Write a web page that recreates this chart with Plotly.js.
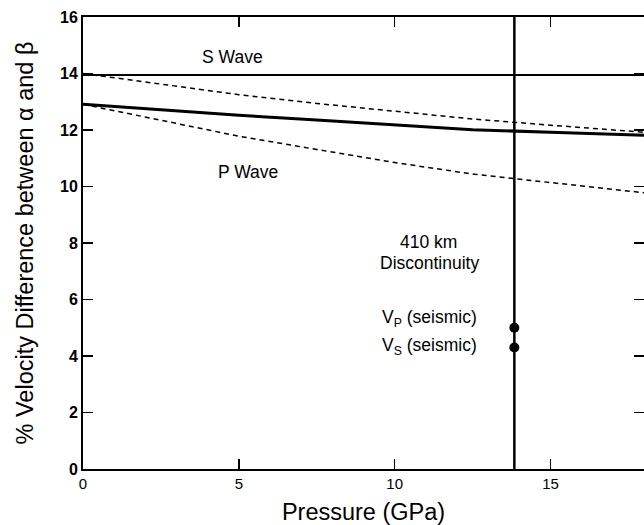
<!DOCTYPE html>
<html>
<head>
<meta charset="utf-8">
<script src="https://cdn.plot.ly/plotly-3.0.1.min.js"></script>
<style>
  html, body { margin: 0; padding: 0; background: #fff; }
  #chart { width: 644px; height: 525px; }
</style>
</head>
<body>
<div id="chart"></div>
<script>
// Pressure (GPa) sample points
const pressure = [0, 2.5, 5, 7.5, 10, 12.5, 15, 18];
// S wave: solid (observed) and dashed curves
const sSolid  = [13.95, 13.95, 13.95, 13.95, 13.95, 13.95, 13.95, 13.95];
const sDashed = [14.0, 13.62, 13.25, 12.94, 12.66, 12.39, 12.17, 11.92];
// P wave: solid and dashed curves
const pSolid  = [12.91, 12.71, 12.52, 12.35, 12.17, 12.01, 11.92, 11.81];
const pDashed = [12.91, 12.35, 11.78, 11.31, 10.85, 10.44, 10.15, 9.78];
// 410 km discontinuity and seismic values
const discX = [13.84, 13.84];
const discY = [0, 16];
const seismicX = [13.84, 13.84];
const seismicY = [5.0, 4.3];
const seismicLabels = ['V<sub>P</sub> (seismic)', 'V<sub>S</sub> (seismic)'];
const xTicks = [0, 5, 10, 15];
const yTicks = [0, 2, 4, 6, 8, 10, 12, 14, 16];

const FONT = 'Liberation Sans, Arial, Helvetica, sans-serif';

const traces = [
  {x: pressure, y: sSolid, mode: 'lines', line: {color: '#000', width: 2}},
  {x: pressure, y: sDashed, mode: 'lines', line: {color: '#000', width: 1.5, dash: '5px,4px'}},
  {x: pressure, y: pSolid, mode: 'lines', line: {color: '#000', width: 3}},
  {x: pressure, y: pDashed, mode: 'lines', line: {color: '#000', width: 1.5, dash: '5px,4px'}},
  {x: discX, y: discY, mode: 'lines', line: {color: '#000', width: 2.5}},
  {x: seismicX, y: seismicY, mode: 'markers', marker: {color: '#000', size: 10}}
];

const annotations = [
  {x: 4.79, y: 14.58, text: 'S Wave'},
  {x: 5.29, y: 10.52, text: 'P Wave'},
  {x: 11.08, y: 8.02, text: '410 km'},
  {x: 11.13, y: 7.28, text: 'Discontinuity'},
  {x: 12.72, y: seismicY[0] + 0.34, text: seismicLabels[0], xanchor: 'right'},
  {x: 12.72, y: seismicY[1] + 0.04, text: seismicLabels[1], xanchor: 'right'}
].map(a => Object.assign({
  xref: 'x', yref: 'y', showarrow: false, xanchor: 'center', yanchor: 'middle',
  font: {family: FONT, size: 17.5, color: '#000'}
}, a));

const layout = {
  width: 644, height: 525,
  margin: {l: 83, r: 0, t: 17, b: 56},
  paper_bgcolor: '#fff', plot_bgcolor: '#fff',
  showlegend: false,
  font: {family: FONT, color: '#000'},
  xaxis: {
    range: [0, 18], tickvals: xTicks, ticktext: xTicks.map(String),
    ticks: 'inside', ticklen: 10, tickwidth: 1.5, tickcolor: '#000',
    showline: true, linecolor: '#000', linewidth: 2, mirror: 'ticks',
    showgrid: false, zeroline: false,
    tickfont: {family: FONT, size: 15, color: '#000'},
    title: {text: 'Pressure (GPa)', font: {family: FONT, size: 23.5, color: '#000'}, standoff: 14}
  },
  yaxis: {
    range: [0, 16], tickvals: yTicks, ticktext: yTicks.map(v => '<b>' + v + '</b>'),
    ticks: 'inside', ticklen: 10, tickwidth: 1.5, tickcolor: '#000',
    showline: true, linecolor: '#000', linewidth: 2, mirror: 'ticks',
    showgrid: false, zeroline: false,
    tickfont: {family: FONT, size: 16, color: '#000'},
    title: {text: '% Velocity Difference between α and β', font: {family: FONT, size: 23.5, color: '#000'}, standoff: 20}
  },
  annotations: annotations
};

Plotly.newPlot('chart', traces, layout, {displayModeBar: false, staticPlot: true});
</script>
</body>
</html>
